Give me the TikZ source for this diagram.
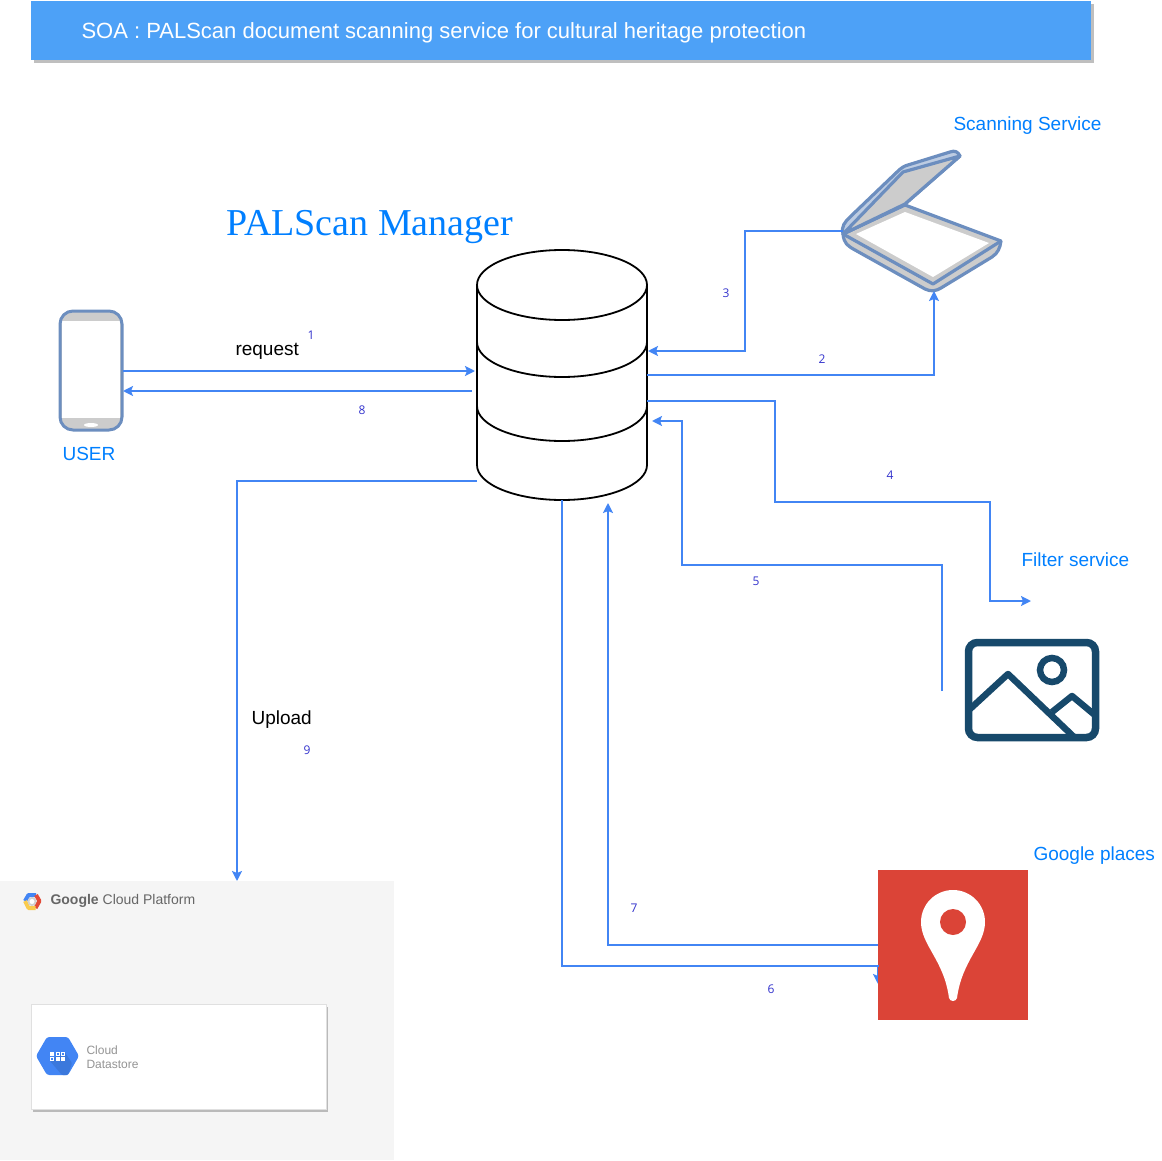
\documentclass[tikz,border=0pt]{standalone}
\usepackage{fontspec}
\setmainfont{Liberation Sans}
\newfontfamily\headfont{Liberation Serif}
\newfontfamily\numfont{Open Sans}
\usetikzlibrary{arrows.meta}
\definecolor{flowblue}{HTML}{4285F4}
\definecolor{labelblue}{HTML}{007FFF}
\definecolor{numblue}{HTML}{3333CC}
\definecolor{barblue}{HTML}{4DA1F7}
\definecolor{iconblue}{HTML}{6C8EBF}
\definecolor{icongrey}{HTML}{CCCCCC}
\definecolor{photoblue}{HTML}{17496B}
\definecolor{pinred}{HTML}{DB4437}
\definecolor{logored}{HTML}{E24A38}
\definecolor{logoyellow}{HTML}{F9CB4E}
\tikzset{
    flow/.style={draw=flowblue, line width=1.9pt, -{Stealth[length=10pt,width=10pt,inset=2pt]}},
    service/.style={text=labelblue, font=\fontsize{19}{22}\selectfont, anchor=west},
    plain/.style={font=\fontsize{19}{22}\selectfont, anchor=west},
    num/.style={text=numblue, font=\numfont\fontsize{12}{14}\selectfont},
    slot/.style={inner sep=0pt, outer sep=0pt}
}
\begin{document}
\begin{tikzpicture}[x=1pt,y=-1pt]
    \useasboundingbox (0,0) rectangle (1162,1161);

    % title bar
    \fill [black!25] (34,4) rectangle (1094,63);
    \fill [barblue] (31,1) rectangle (1091,60);
    \node [anchor=west, text=white, font=\fontsize{22}{26}\selectfont] (title) at (78,33) {SOA : PALScan document scanning service for cultural heritage protection};

    % database
    \node [slot, minimum width=170pt, minimum height=250pt] (db) at (562,375) {};
    \draw [line width=1.8pt, fill=white] (477,285) -- (477,465) arc [start angle=180, end angle=360, x radius=85pt, y radius=35pt] -- (647,285);
    \draw [line width=1.8pt, fill=white] (562,285) ellipse [x radius=85pt, y radius=35pt];
    \draw [line width=1.8pt] (477,342) arc [start angle=180, end angle=360, x radius=85pt, y radius=35pt];
    \draw [line width=1.8pt] (477,406) arc [start angle=180, end angle=360, x radius=85pt, y radius=35pt];
    \node [anchor=west, text=labelblue, font=\headfont\fontsize{38}{42}\selectfont] (manager) at (223,227) {PALScan Manager};

    % phone
    \node [slot, minimum width=63pt, minimum height=120pt] (phone) at (91,371) {};
    \fill [icongrey, rounded corners=13pt] (60,311) rectangle (122,430);
    \fill [white] (62,321) rectangle (120,418);
    \fill [white] (91,425) ellipse [x radius=7pt, y radius=2pt];
    \draw [iconblue, line width=3pt, rounded corners=13pt] (60,311) rectangle (122,430);
    \node [service] (user) at (59,454) {USER};

    % scanner
    \node [slot, minimum width=160pt, minimum height=140pt] (scanner) at (922,221) {};
    \draw [iconblue, line width=3.2pt, fill=icongrey, line join=round] (843,234) .. controls (844,244) and (848,246) .. (855,250) -- (925,289) .. controls (931,292) and (936,291) .. (941,288) -- (992,257) .. controls (998,253) and (1000,248) .. (1001,241) -- (905,205) -- cycle;
    \draw [iconblue, line width=3.2pt, line join=round] (843,234) -- (933,284) -- (1001,241);
    \fill [white] (856,234) -- (905,212) -- (989,243) -- (933,277) -- cycle;
    \draw [iconblue, line width=3.2pt, fill=iconblue!45, line join=round] (843,234) .. controls (841,226) and (845,222) .. (850,217) -- (897,172) .. controls (901,168) and (904,166) .. (908,165) -- (950,152) .. controls (955,150) and (958,152) .. (960,156) -- (905,204) -- cycle;
    \draw [iconblue, line width=3.2pt, fill=icongrey, line join=round] (843,234) -- (903,172) -- (960,156) -- (905,204) -- cycle;
    \node [service] (scanlabel) at (950,125.5) {Scanning Service};

    % filter
    \node [slot, minimum width=135pt, minimum height=103pt] (filter) at (1032,690) {};
    \draw [photoblue, line width=7.5pt, rounded corners=9pt] (968.5,642.5) rectangle (1095.5,737.5);
    \draw [photoblue, line width=6.5pt] (1052,670) circle (12pt);
    \draw [photoblue, line width=6.5pt, line join=round] (970,709) -- (1008,674) -- (1075,738);
    \draw [photoblue, line width=6.5pt, line join=round] (1052,712) -- (1072,696) -- (1096,716);
    \node [service] (filterlabel) at (1018,560) {Filter service};

    % places
    \node [slot, fill=pinred, minimum width=150pt, minimum height=150pt] (places) at (953,945) {};
    \fill [white] (921,922) arc [start angle=180, end angle=0, radius=32pt] .. controls (985,945) and (962,960) .. (957,998) .. controls (956,1002) and (950,1002) .. (949,998) .. controls (944,960) and (921,945) .. (921,922) -- cycle;
    \fill [pinred] (953,922) circle (13pt);
    \node [service] (placeslabel) at (1030,855.5) {Google places};

    % cloud
    \fill [black!4] (0,881) rectangle (394,1160);
    \node [slot, minimum width=296pt, minimum height=105pt] (cloud) at (178,1056) {};
    \fill [black!27] (33,1007) rectangle (328,1112);
    \draw [black!12, fill=white, line width=0.8pt] (31,1004) rectangle (326,1109);
    \fill [flowblue, rounded corners=2.5pt] (36,1056) -- (47,1037) -- (68,1037) -- (79,1056) -- (68,1075) -- (47,1075) -- cycle;
    \fill [black!10!flowblue, rounded corners=1pt] (64,1051) -- (72,1063) -- (68,1075) -- (62,1075) -- (50,1061) -- cycle;
    \foreach \gx/\gy in {50/1052,56/1052,61/1052,50/1057,56/1057,61/1057}
        \fill [white] (\gx,\gy) rectangle ++(4,4);
    \foreach \gx/\gy in {56/1052,61/1052,50/1057}
        \fill [flowblue] (\gx+1,\gy+1) rectangle ++(2,2);
    \node [anchor=west, text=black!42, align=left, font=\fontsize{12}{14}\selectfont] (datastore) at (83,1057) {Cloud\\Datastore};
    \draw [line width=4pt, color=flowblue, line join=round] (25,901) -- (28.5,895) -- (36,895);
    \draw [line width=4pt, color=logored, line join=round] (36,895) -- (39.5,901) -- (35.5,908);
    \draw [line width=4pt, color=logoyellow, line join=round] (35.5,908) -- (28.5,908) -- (25,901);
    \fill [black!18] (32,901.5) circle (4.5pt);
    \fill [white] (32,901.5) circle (2.5pt);
    \node [anchor=west, text=black!60, font=\fontsize{14}{16}\selectfont] (gcp) at (47,901) {\textbf{Google} Cloud Platform};

    % ports
    \coordinate (dbW1) at (475,371);
    \coordinate (dbW2) at (472,391);
    \coordinate (dbW3) at (477,481);
    \coordinate (dbE1) at (648,351);
    \coordinate (dbE2) at (647,375);
    \coordinate (dbE3) at (647,401);
    \coordinate (dbE4) at (652,421);
    \coordinate (dbS1) at (562,500);
    \coordinate (dbS2) at (608,503);
    \coordinate (scanW) at (843,231);
    \coordinate (scanS) at (934,291);
    \coordinate (filterIn) at (1031,601);
    \coordinate (filterOut) at (942,691);
    \coordinate (placesW1) at (878,945);
    \coordinate (placesW2) at (878,984);
    \coordinate (phoneE1) at (123,371);
    \coordinate (phoneE2) at (123,391);
    \coordinate (cloudN) at (237,881);

    % connectors
    \draw [flow] (phoneE1) -- (dbW1);
    \draw [flow] (dbW2) -- (phoneE2);
    \draw [flow] (dbE2) -| (scanS);
    \draw [flow] (scanW) -- (745,231) |- (dbE1);
    \draw [flow] (dbE3) -- (775,401) |- (990,502) |- (filterIn);
    \draw [flow] (filterOut) |- (682,565) |- (dbE4);
    \draw [flow] (dbS1) |- (878,966) -- (placesW2);
    \draw [flow] (placesW1) -| (dbS2);
    \draw [flow] (dbW3) -| (cloudN);

    % places sits over the arrow tip of connector 6
    \fill [pinred] (878,967) rectangle (886,990);

    \node [plain] (request) at (232,351) {request};
    \node [plain] (upload) at (248,720) {Upload};
    \node [num] (n1) at (311,335) {1};
    \node [num] (n2) at (822,359) {2};
    \node [num] (n3) at (726,293) {3};
    \node [num] (n4) at (890,475) {4};
    \node [num] (n5) at (756,581) {5};
    \node [num] (n6) at (771,989) {6};
    \node [num] (n7) at (634,908) {7};
    \node [num] (n8) at (362,410) {8};
    \node [num] (n9) at (307,750) {9};
\end{tikzpicture}
\end{document}
